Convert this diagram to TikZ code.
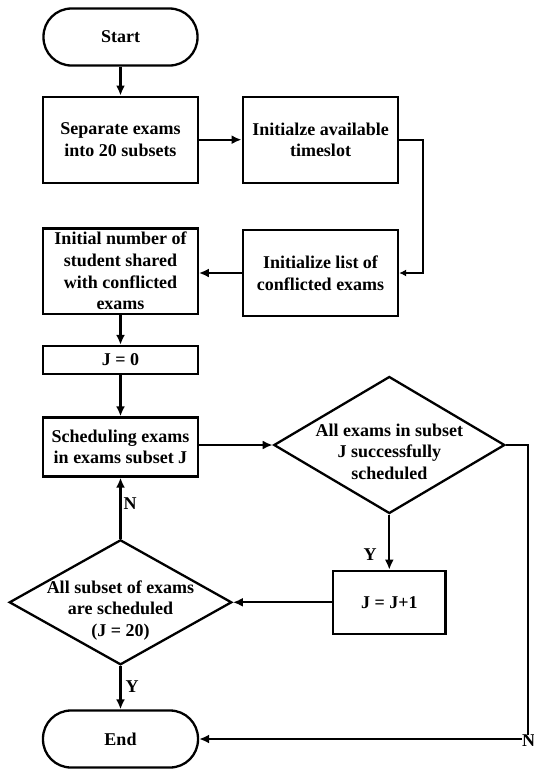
\documentclass[tikz,border=0pt]{standalone}
\usepackage{fontspec}
\setmainfont{Liberation Serif}
\usetikzlibrary{shapes.geometric,arrows.meta}
\begin{document}
\begin{tikzpicture}[x=1pt,y=-1pt,
  every node/.style={font=\bfseries\fontsize{18}{21.6}\selectfont, inner sep=0pt},
  box/.style={draw, line width=2.3pt, align=center},
  term/.style={draw, line width=2.3pt, rounded corners=28pt, minimum width=154pt, minimum height=57pt},
  dec/.style={draw, diamond, line width=2.3pt},
  dtxt/.style={align=center},
  conn/.style={line width=2.3pt, -{Latex[length=10pt,width=9pt]}},
  connsm/.style={line width=2.3pt, -{Latex[length=7pt,width=7pt]}}]
\useasboundingbox (0,0) rectangle (534,769);

\node[term] (start) at (120.5,37) {Start};
\node[box, minimum width=155pt, minimum height=86pt] (sep) at (120.5,139.7) {Separate exams\\into 20 subsets};
\node[box, minimum width=155.6pt, minimum height=86pt] (init) at (320.5,139.7) {Initialze available\\timeslot};
\node[box, minimum width=155pt, minimum height=86pt] (list) at (320.5,273) {Initialize list of\\conflicted exams};
\node[box, minimum width=154.5pt, minimum height=85.3pt] (initial) at (120.5,271) {Initial number of\\student shared\\with conflicted\\exams};
\node[box, minimum width=154.5pt, minimum height=28pt] (jzero) at (120.5,360) {J = 0};
\node[box, minimum width=155pt, minimum height=59pt] (sched) at (120.5,447) {Scheduling exams\\in exams subset J};
\node[dec, minimum width=231pt, minimum height=137pt] (d1) at (389.3,445) {};
\node[dtxt] (d1t) at (389.3,451.5) {All exams in subset\\J successfully\\scheduled};
\node[box, minimum width=112.6pt, minimum height=63pt] (jj) at (389.3,602.3) {J = J+1};
\node[dec, minimum width=222.5pt, minimum height=125pt] (d2) at (120.5,602.3) {};
\node[dtxt] (d2t) at (120.5,610.5) {All subset of exams\\are scheduled\\(J = 20)};
\node[term, minimum width=155pt] (endn) at (120.5,739) {End};

\coordinate (rc) at (528,739);

\draw[conn] (start) -- (sep);
\draw[conn] (sep) -- (init);
\draw[connsm] (init.east) -- ++(23.4,0) |- (list.east);
\draw[conn] (list.west) -- (list.west -| initial.east);
\draw[conn] (initial) -- (jzero);
\draw[conn] (jzero) -- (sched);
\draw[conn] (sched.east |- d1.west) -- (d1.west);
\draw[conn] (d1.south) -- (jj.north);
\draw[conn] (jj.west) -- (d2.east);
\draw[conn] (d2.north) -- (sched.south);
\draw[conn] (d2.south) -- (endn.north);
\draw[conn] (d1.east) -| (rc) -- (endn.east);

\node (ln1) at (130,504) {N};
\node (ly1) at (370,555) {Y};
\node (ly2) at (132,687) {Y};
\node[fill=white] (ln2) at (rc) [xshift=0.5pt, yshift=-2pt] {N};
\end{tikzpicture}
\end{document}
